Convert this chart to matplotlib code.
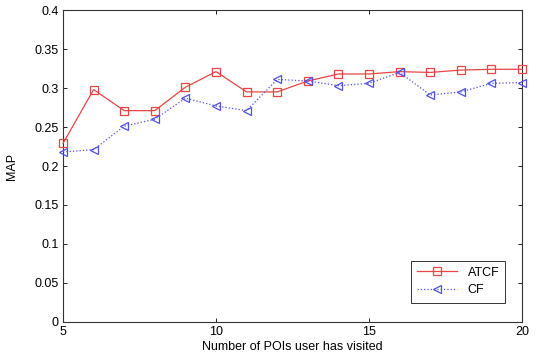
import numpy as np
import matplotlib.pyplot as plt

plt.rcParams['font.family'] = ['Liberation Sans', 'DejaVu Sans']

num_visited = [5, 6, 7, 8, 9, 10, 11, 12, 13, 14, 15, 16, 17, 18, 19, 20]
map_atcf = [0.229, 0.298, 0.271, 0.271, 0.301, 0.321, 0.295, 0.295,
            0.309, 0.318, 0.318, 0.321, 0.320, 0.323, 0.324, 0.324]
map_cf = [0.218, 0.221, 0.251, 0.260, 0.287, 0.277, 0.271, 0.311,
          0.309, 0.303, 0.306, 0.320, 0.291, 0.295, 0.306, 0.307]
x_ticks = [5, 10, 15, 20]
y_ticks = [0, 0.05, 0.1, 0.15, 0.2, 0.25, 0.3, 0.35, 0.4]
y_tick_labels = ['0', '0.05', '0.1', '0.15', '0.2', '0.25', '0.3', '0.35', '0.4']


def main():
    fig = plt.figure(figsize=(5.39, 3.58), dpi=100)
    ax = fig.add_axes([0.1169, 0.1006, 0.8516, 0.8714])

    ax.plot(num_visited, map_atcf, color='#ea4444', lw=0.9, marker='s',
            ms=6.2, mfc='none', mec='#ea4444', mew=0.9, label='ATCF',
            clip_on=False, zorder=3)
    ax.plot(num_visited, map_cf, color='#5050ea', lw=0.9, ls=':', marker='<',
            ms=6.2, mfc='none', mec='#5050ea', mew=0.9, label='CF',
            clip_on=False, zorder=3)

    ax.set_xlim(5, 20)
    ax.set_ylim(0, 0.4)
    ax.set_xticks(x_ticks)
    ax.set_yticks(y_ticks)
    ax.set_yticklabels(y_tick_labels)
    ax.tick_params(direction='in', length=3, width=0.6, labelsize=9,
                   top=True, right=True, pad=3)
    for sp in ax.spines.values():
        sp.set_linewidth(0.8)
        sp.set_color('#333333')

    ax.set_xlabel('Number of POIs user has visited', fontsize=9, labelpad=2)
    ax.set_ylabel('MAP', fontsize=9, labelpad=12)

    leg = ax.legend(loc='lower right', bbox_to_anchor=(0.964, 0.062),
                    borderaxespad=0, fontsize=9, fancybox=False,
                    edgecolor='#333333', framealpha=1, handlelength=3.2,
                    labelspacing=0.45, borderpad=0.5)
    leg.get_frame().set_linewidth(0.7)

    fig.savefig('out.png', dpi=100)


if __name__ == "__main__":
    main()
